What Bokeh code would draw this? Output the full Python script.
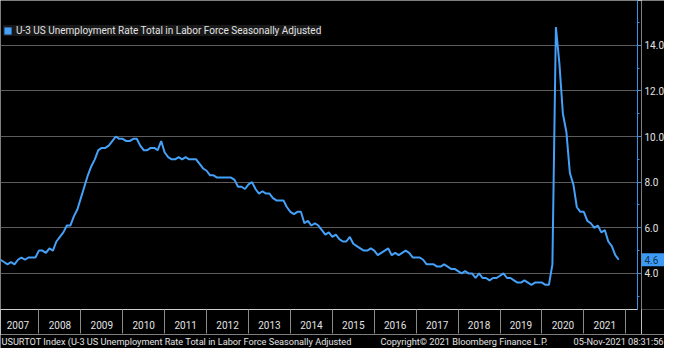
from bokeh.plotting import figure
from bokeh.layouts import column, row
from bokeh.models import FixedTicker, Legend, LegendItem, Range1d
from bokeh.core.properties import value
from bokeh.embed import file_html
from bokeh.resources import INLINE

# ---- data (monthly U-3 unemployment rate, %) ----
years = list(range(2007, 2022))
rate_2007 = [4.6, 4.5, 4.4, 4.5, 4.4, 4.6, 4.7, 4.6, 4.7, 4.7, 4.7, 5.0]
rate_2008 = [5.0, 4.9, 5.1, 5.0, 5.4, 5.6, 5.8, 6.1, 6.1, 6.5, 6.8, 7.3]
rate_2009 = [7.8, 8.3, 8.7, 9.0, 9.4, 9.5, 9.5, 9.6, 9.8, 10.0, 9.9, 9.9]
rate_2010 = [9.8, 9.8, 9.9, 9.9, 9.6, 9.4, 9.4, 9.5, 9.5, 9.4, 9.8, 9.3]
rate_2011 = [9.1, 9.0, 9.0, 9.1, 9.0, 9.1, 9.0, 9.0, 9.0, 8.8, 8.6, 8.5]
rate_2012 = [8.3, 8.3, 8.2, 8.2, 8.2, 8.2, 8.2, 8.1, 7.8, 7.8, 7.7, 7.9]
rate_2013 = [8.0, 7.7, 7.5, 7.6, 7.5, 7.5, 7.3, 7.2, 7.2, 7.2, 6.9, 6.7]
rate_2014 = [6.6, 6.7, 6.7, 6.2, 6.3, 6.1, 6.2, 6.1, 5.9, 5.7, 5.8, 5.6]
rate_2015 = [5.7, 5.5, 5.4, 5.4, 5.6, 5.3, 5.2, 5.1, 5.0, 5.0, 5.1, 5.0]
rate_2016 = [4.8, 4.9, 5.0, 5.1, 4.8, 4.9, 4.8, 4.9, 5.0, 4.9, 4.7, 4.7]
rate_2017 = [4.7, 4.6, 4.4, 4.4, 4.4, 4.3, 4.3, 4.4, 4.3, 4.2, 4.2, 4.1]
rate_2018 = [4.0, 4.1, 4.0, 4.0, 3.8, 4.0, 3.8, 3.8, 3.7, 3.8, 3.8, 3.9]
rate_2019 = [4.0, 3.8, 3.8, 3.7, 3.6, 3.6, 3.7, 3.6, 3.5, 3.6, 3.6, 3.6]
rate_2020 = [3.5, 3.5, 4.4, 14.8, 13.2, 11.0, 10.2, 8.4, 7.9, 6.9, 6.7, 6.7]
rate_2021 = [6.3, 6.2, 6.0, 6.1, 5.8, 5.9, 5.4, 5.2, 4.8, 4.6]
rates = [rate_2007, rate_2008, rate_2009, rate_2010, rate_2011, rate_2012, rate_2013,
         rate_2014, rate_2015, rate_2016, rate_2017, rate_2018, rate_2019, rate_2020, rate_2021]

y_ticks = [4, 6, 8, 10, 12, 14]
y_minor = [3, 5, 7, 9, 11, 13, 15]
y_tick_labels = ["4.0", "6.0", "8.0", "10.0", "12.0", "14.0"]
series_name = "U-3 US Unemployment Rate Total in Labor Force Seasonally Adjusted"
footer_left = ["USURTOT Index (U-3 US Unemployment Rate Total in Labor Force Seasonally Adjusted",
               "Copyright\u00a9 2021 Bloomberg Finance L.P."]
footer_right = ["05-Nov-2021 08:31:56"]

xs, ys = [], []
for yr, vals in zip(years, rates):
    for m, v in enumerate(vals, start=1):
        xs.append(yr + m / 12.0)
        ys.append(v)

BLUE = "#45a0f8"
AXIS_BLUE = "#3d8fe6"
TXT = "#e2e2e2"
FONT = "Roboto"

W = 664
FOOT_H = 14
H = 348 - FOOT_H
TICK = 4
FW = 637
MAIN_W = FW + TICK
SIDE_W = W - MAIN_W
BB = 25
FH = H - BB

yr = Range1d(2.42, 15.96)

p = figure(width=MAIN_W, height=H, output_backend="svg", toolbar_location=None,
           x_range=Range1d(xs[0], years[-1] + 1.28), y_range=yr,
           y_axis_location="right", min_border_left=0, min_border_top=0,
           min_border_right=TICK, min_border_bottom=BB)
p.background_fill_color = "black"
p.border_fill_color = "black"
p.outline_line_color = None

line_r = p.line(xs, ys, line_color=BLUE, line_width=2)
# zero-size swatch at the last observation, used only for the legend square
sq_r = p.quad(left=[xs[-1]], right=[xs[-1]], top=[ys[-1]], bottom=[ys[-1]],
              fill_color=BLUE, line_color=None)

# x axis: year labels centred between year separators
xa = p.xaxis[0]
mids = [y + 0.5 for y in years]
xa.ticker = FixedTicker(ticks=mids, minor_ticks=[y for y in years] + [years[-1] + 1])
xa.major_label_overrides = {m: str(y) for m, y in zip(mids, years)}
xa.major_tick_line_color = None
xa.major_tick_out = 0
xa.major_tick_in = 0
xa.minor_tick_out = 24
xa.minor_tick_in = 0
xa.minor_tick_line_color = "#8a8a8a"
xa.axis_line_color = "#cfcfcf"
xa.major_label_text_color = TXT
xa.major_label_text_font = FONT
xa.major_label_text_font_size = "10px"
xa.major_label_standoff = -13

# y axis (right): line and ticks; labels are drawn in the side strip
ya = p.yaxis[0]
ya.ticker = FixedTicker(ticks=y_ticks, minor_ticks=y_minor)
ya.major_label_overrides = {t: "" for t in y_ticks}
ya.axis_line_color = AXIS_BLUE
ya.major_tick_line_color = AXIS_BLUE
ya.minor_tick_line_color = AXIS_BLUE
ya.major_tick_out = TICK
ya.major_tick_in = 0
ya.minor_tick_out = 2
ya.minor_tick_in = 0
ya.major_label_standoff = 0

p.xgrid.grid_line_color = None
p.ygrid.ticker = FixedTicker(ticks=y_ticks)
p.ygrid.grid_line_color = "#5c5c5c"
p.ygrid.grid_line_width = 1

legend = Legend(items=[LegendItem(label=series_name, renderers=[sq_r])],
                location=(3, FH - 36))
legend.background_fill_color = "#181818"
legend.background_fill_alpha = 1
legend.border_line_color = None
legend.label_text_color = TXT
legend.label_text_font = FONT
legend.label_text_font_size = "10px"
legend.glyph_width = 9
legend.glyph_height = 9
legend.label_standoff = 4
legend.padding = 6
legend.margin = 0
legend.label_height = 11
legend.inactive_fill_alpha = 0
p.add_layout(legend)

# side strip with y tick labels and the last-value tag
s = figure(width=SIDE_W, height=H, output_backend="svg", toolbar_location=None,
           x_range=Range1d(0, SIDE_W), y_range=yr, min_border_left=0, min_border_right=0,
           min_border_top=0, min_border_bottom=BB, x_axis_type=None, y_axis_type=None)
s.background_fill_color = "black"
s.border_fill_color = "black"
s.outline_line_color = None
s.grid.visible = False
s.text(x=[3] * len(y_ticks), y=y_ticks, text=y_tick_labels, text_align="left",
       text_baseline="middle", text_color=TXT, text_font=value(FONT), text_font_size="10px")
s.rect(x=[0], y=[ys[-1]], width=2 * SIDE_W, height=13, width_units="screen",
       height_units="screen", fill_color="#3d9bf5", line_color=None)
s.text(x=[3], y=[ys[-1]], text=[f"{ys[-1]:.1f}"], text_align="left", text_baseline="middle",
       text_color="#10304f", text_font=value(FONT), text_font_size="10px")

# footer strip
f = figure(width=W, height=FOOT_H, output_backend="svg", toolbar_location=None,
           x_range=Range1d(0, W), y_range=Range1d(0, 1),
           min_border=0, x_axis_type=None, y_axis_type=None)
f.background_fill_color = "black"
f.border_fill_color = "black"
f.outline_line_color = None
f.grid.visible = False
f.text(x=[1, 380], y=[0.5, 0.5], text=footer_left, text_align="left", text_baseline="middle",
       text_color=TXT, text_font=value(FONT), text_font_size="9.2px")
f.text(x=[W - 1], y=[0.5], text=footer_right, text_align="right", text_baseline="middle",
       text_color=TXT, text_font=value(FONT), text_font_size="9.2px")

layout = column(row(p, s, spacing=0), f, spacing=0)
open("out.html", "w").write(file_html(layout, INLINE))
